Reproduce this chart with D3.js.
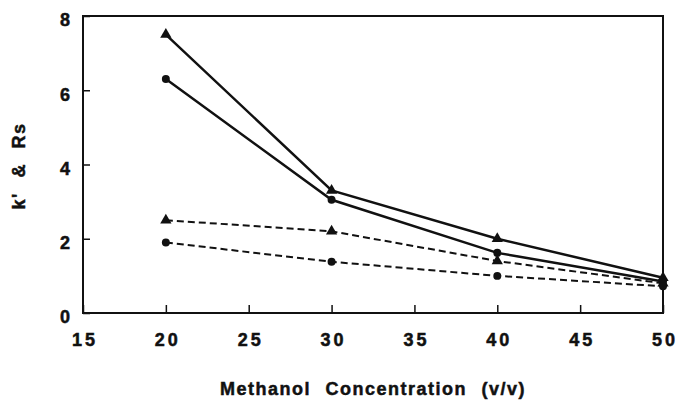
<!DOCTYPE html>
<html>
<head>
<meta charset="utf-8">
<script src="https://cdn.jsdelivr.net/npm/d3@7"></script>
<style>
  body { margin: 0; background: #fff; }
  text { font-family: "Liberation Sans", Arial, sans-serif; font-weight: bold; fill: #111; stroke: #111; stroke-width: 0.5px; }
</style>
</head>
<body>
<div id="chart"></div>
<script>
// methanol concentrations and the four series
var conc = [20, 30, 40, 50];
var kTriangle = [7.5, 3.3, 2.0, 0.95];
var kCircle = [6.3, 3.05, 1.62, 0.85];
var rsTriangle = [2.5, 2.2, 1.4, 0.8];
var rsCircle = [1.9, 1.38, 1.0, 0.72];
var xTicks = [15, 20, 25, 30, 35, 40, 45, 50];
var yTicks = [0, 2, 4, 6, 8];

var series = [
  {values: kTriangle, marker: "triangle", dashed: false},
  {values: kCircle, marker: "circle", dashed: false},
  {values: rsTriangle, marker: "triangle", dashed: true},
  {values: rsCircle, marker: "circle", dashed: true}
];

var margin = {top: 16, right: 15, bottom: 88, left: 83},
    width = 678 - margin.left - margin.right,
    height = 401 - margin.top - margin.bottom;

var svg = d3.select("#chart").append("svg")
    .attr("width", 678)
    .attr("height", 401);

var g = svg.append("g")
    .attr("transform", "translate(" + margin.left + "," + margin.top + ")");

var x = d3.scaleLinear().domain([15, 50]).range([0, width]);
var y = d3.scaleLinear().domain([0, 8]).range([height, 0]);

// frame
g.append("rect")
    .attr("width", width)
    .attr("height", height)
    .attr("fill", "none")
    .attr("stroke", "#111")
    .attr("stroke-width", 2);

var xAxis = g.append("g")
    .attr("transform", "translate(0," + height + ")")
    .call(d3.axisBottom(x).tickValues(xTicks).tickSizeInner(-8).tickSizeOuter(0).tickPadding(20));

var yAxis = g.append("g")
    .call(d3.axisLeft(y).tickValues(yTicks).tickSizeInner(-7).tickSizeOuter(0).tickPadding(13));

[xAxis, yAxis].forEach(function(ax){
  ax.select(".domain").remove();
  ax.selectAll("line").attr("stroke", "#111").attr("stroke-width", 1.5);
  ax.selectAll("text")
    .style("font-size", "18px")
    .attr("fill", "#111");
});
xAxis.selectAll("text").style("letter-spacing", "3px").attr("dx", "1.5px");
yAxis.selectAll("text").attr("dy", "0.55em");

var line = d3.line()
    .x(function(d, i){ return x(conc[i]); })
    .y(function(d){ return y(d); });

series.forEach(function(s){
  g.append("path")
    .datum(s.values)
    .attr("d", line)
    .attr("fill", "none")
    .attr("stroke", "#111")
    .attr("stroke-width", s.dashed ? 2 : 2.5)
    .attr("stroke-dasharray", s.dashed ? "7,4" : null);

  var sym = d3.symbol()
    .type(s.marker == "triangle" ? d3.symbolTriangle : d3.symbolCircle)
    .size(s.marker == "triangle" ? 55 : 50);

  g.selectAll(null)
    .data(s.values)
    .enter()
    .append("path")
    .attr("d", sym)
    .attr("transform", function(d, i){ return "translate(" + x(conc[i]) + "," + y(d) + ")"; })
    .attr("fill", "#111");
});

svg.append("text")
    .attr("x", 373)
    .attr("y", 395)
    .attr("text-anchor", "middle")
    .style("font-size", "18px")
    .style("letter-spacing", "1.5px")
    .style("word-spacing", "8px")
    .text("Methanol Concentration (v/v)");

svg.append("text")
    .attr("transform", "translate(25,166) rotate(-90)")
    .attr("text-anchor", "middle")
    .style("font-size", "18px")
    .style("letter-spacing", "1.5px")
    .style("word-spacing", "8px")
    .text("k' & Rs");
</script>
</body>
</html>
